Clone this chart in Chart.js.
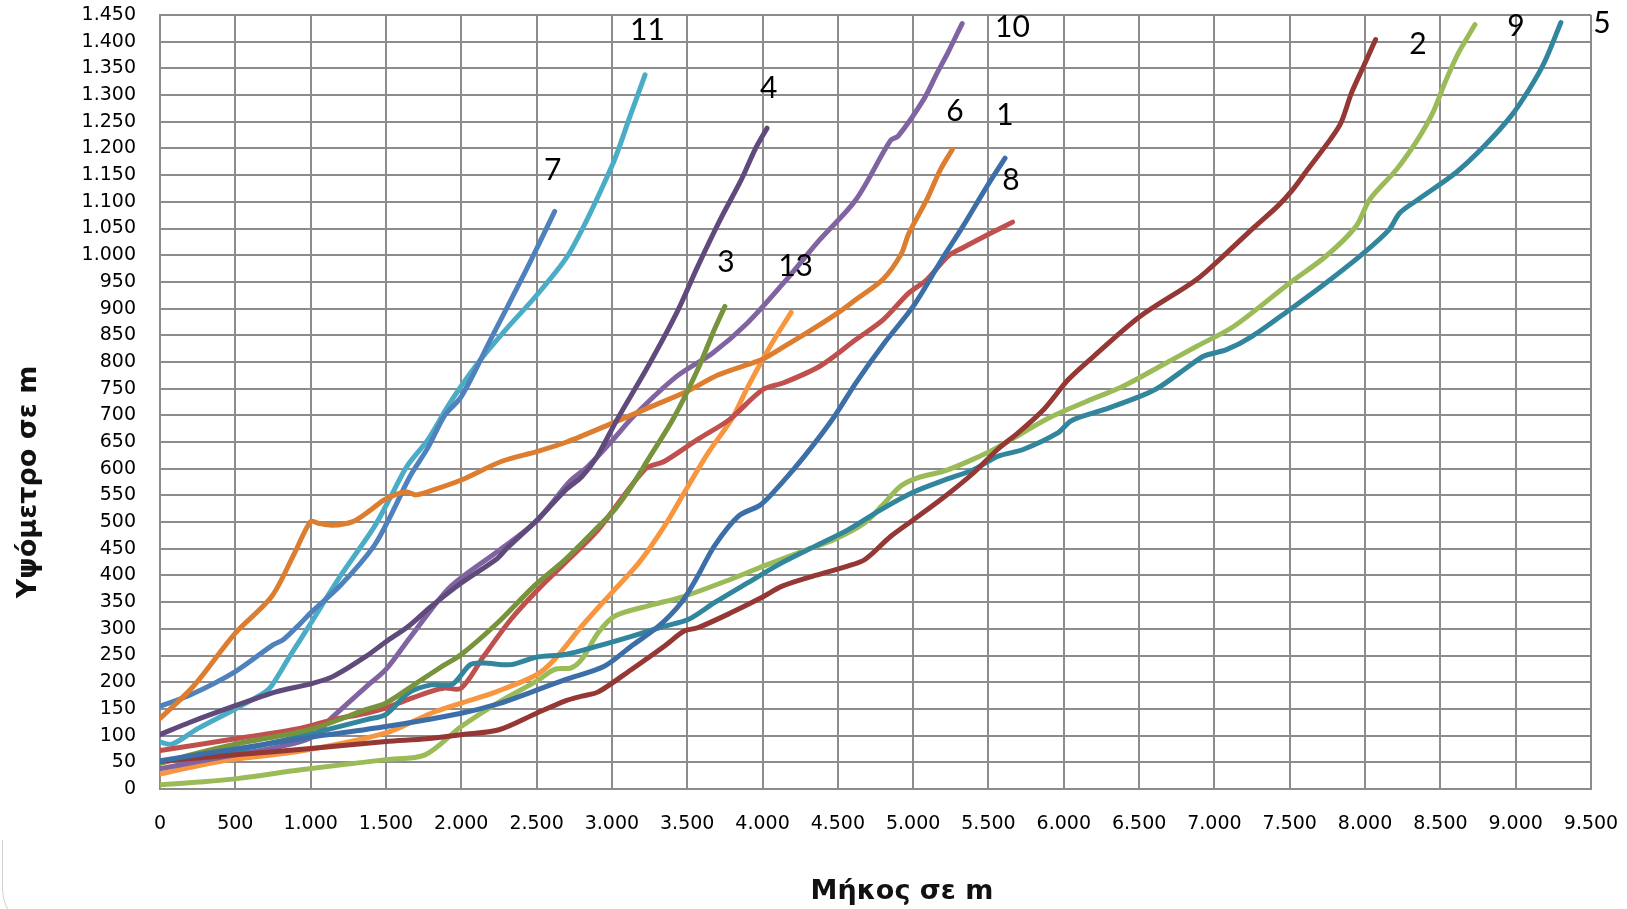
<!DOCTYPE html>
<html lang="el">
<head>
<meta charset="utf-8">
<title>Υψόμετρο σε m – Μήκος σε m</title>
<script src="https://cdn.jsdelivr.net/npm/chart.js@4.4.1/dist/chart.umd.min.js"></script>
<style>
  html, body { margin: 0; padding: 0; background: #fff; overflow: hidden; }
  #wrap { position: relative; width: 1627px; height: 909px; }
  #frame {
    position: absolute; left: 2px; top: 840px; width: 300px; height: 90px;
    border-left: 1.5px solid #cfcfcf; border-bottom: 1.5px solid #cfcfcf;
    border-bottom-left-radius: 42px;
  }
  canvas { position: absolute; left: 0; top: 0; }
</style>
</head>
<body>
<div id="wrap">
  <div id="frame"></div>
  <canvas id="profile" width="1627" height="909"></canvas>
</div>
<script>
// Longitudinal profiles: [length in m, elevation in m]
const route1  = [[0,53],[500,75],[1000,97],[1500,117],[2000,142],[2250,160],[2470,182],[2690,205],[2950,230],[3130,268],[3310,305],[3460,349],[3570,399],[3680,455],[3840,511],[3990,533],[4130,574],[4280,624],[4470,695],[4620,761],[4810,836],[5000,904],[5190,992],[5330,1054],[5490,1129],[5610,1182]];
const route2  = [[0,52],[500,64],[1000,76],[1500,89],[1770,94],[2010,102],[2250,111],[2500,142],[2700,166],[2800,174],[2910,182],[3130,224],[3350,268],[3480,296],[3570,302],[3790,330],[4010,361],[4130,380],[4350,400],[4570,418],[4680,430],[4850,473],[5000,504],[5210,548],[5400,592],[5560,636],[5700,668],[5870,712],[6030,767],[6200,811],[6510,886],[6880,954],[7080,1004],[7270,1054],[7420,1092],[7520,1123],[7620,1161],[7770,1217],[7840,1248],[7910,1304],[7990,1354],[8070,1404]];
const route3  = [[0,48],[260,68],[500,84],[1000,112],[1370,149],[1500,161],[1700,198],[1880,231],[2000,252],[2240,311],[2490,382],[2690,430],[2890,486],[3020,524],[3130,567],[3240,617],[3410,695],[3570,786],[3670,854],[3750,904]];
const route4  = [[0,102],[200,125],[500,156],[770,182],[1000,197],[1150,211],[1370,249],[1500,276],[1650,305],[1800,342],[2000,386],[2240,432],[2300,450],[2500,503],[2700,562],[2800,585],[2900,622],[3030,690],[3240,792],[3430,892],[3570,979],[3720,1067],[3860,1142],[3950,1198],[4030,1238]];
const route5  = [[0,50],[500,72],[1000,103],[1150,114],[1370,130],[1500,140],[1650,180],[1800,195],[1940,196],[2060,233],[2150,236],[2330,233],[2500,247],[2690,252],[2910,268],[3130,286],[3350,305],[3510,318],[3680,349],[3900,386],[4130,424],[4350,455],[4570,486],[4790,524],[5000,556],[5210,579],[5400,598],[5560,623],[5730,636],[5960,667],[6050,690],[6270,711],[6510,736],[6640,754],[6830,792],[6930,811],[7080,823],[7250,848],[7500,898],[7740,948],[7990,1004],[8160,1048],[8230,1079],[8350,1104],[8600,1154],[8790,1204],[8970,1261],[9090,1311],[9190,1361],[9300,1436]];
const route6  = [[0,132],[220,192],[500,292],[740,360],[890,440],[1000,501],[1050,498],[1140,494],[1280,501],[1400,523],[1490,542],[1630,557],[1700,551],[1820,561],[2000,579],[2270,614],[2500,632],[2700,650],[3000,685],[3250,715],[3500,745],[3700,775],[3900,795],[4000,805],[4150,830],[4330,861],[4500,892],[4620,917],[4800,955],[4920,1002],[4970,1040],[5090,1104],[5180,1160],[5260,1198]];
const route7  = [[0,155],[200,176],[500,220],[750,270],[820,280],[935,311],[1000,330],[1200,382],[1420,455],[1540,517],[1660,586],[1780,640],[1890,700],[2000,735],[2200,845],[2400,955],[2500,1012],[2620,1082]];
const route8  = [[0,72],[500,94],[935,114],[1150,130],[1370,142],[1500,152],[1650,168],[1800,183],[1890,189],[2000,189],[2150,249],[2330,318],[2500,371],[2690,424],[2910,486],[3220,599],[3350,614],[3570,655],[3780,692],[4000,748],[4140,761],[4380,792],[4620,842],[4800,879],[4970,929],[5090,954],[5230,998],[5330,1014],[5520,1042],[5660,1062]];
const route9  = [[0,8],[260,13],[500,19],[935,36],[1500,55],[1760,64],[2000,117],[2240,161],[2500,202],[2620,224],[2730,227],[2800,243],[2910,293],[3020,324],[3240,343],[3480,361],[3790,393],[4010,418],[4300,449],[4480,468],[4680,499],[4790,530],[4920,568],[5030,583],[5210,596],[5400,618],[5560,640],[5900,695],[6150,726],[6390,754],[6640,792],[6880,829],[7130,867],[7500,948],[7740,998],[7940,1054],[8030,1104],[8210,1161],[8350,1217],[8450,1267],[8530,1323],[8620,1379],[8730,1432]];
const route10 = [[0,38],[260,52],[500,64],[770,78],[1000,96],[1150,136],[1370,192],[1500,224],[1650,280],[1800,336],[1910,374],[2000,396],[2250,447],[2500,502],[2720,576],[2840,604],[3000,652],[3150,700],[3430,773],[3670,817],[3900,873],[4140,948],[4380,1029],[4620,1104],[4850,1215],[4900,1223],[5070,1292],[5160,1342],[5230,1379],[5325,1434]];
const route11 = [[0,88],[80,84],[250,113],[500,150],[690,180],[740,193],[860,248],[1000,310],[1200,400],[1420,490],[1540,552],[1640,605],[1780,655],[1900,712],[2000,755],[2130,805],[2300,862],[2500,925],[2720,1005],[3000,1167],[3120,1260],[3220,1338]];
const route13 = [[0,28],[260,44],[500,56],[935,71],[1500,105],[1800,142],[2000,161],[2240,183],[2500,214],[2620,243],[2800,305],[3000,368],[3180,424],[3350,493],[3480,555],[3640,630],[3800,695],[3900,752],[4050,829],[4190,893]];

const routes     = [route1, route2, route3, route4, route5, route6, route7, route8, route9, route10, route11, route13];
const routeNames = ['1', '2', '3', '4', '5', '6', '7', '8', '9', '10', '11', '13'];

// Where each route number is written (length, elevation)
const labelAnchors = [[5551,1262],[8293,1395],[3699,987],[3984,1313],[9515,1435],[5219,1270],[2550,1159],[5591,1140],[8944,1429],[5544,1427],[3121,1421],[4104,979]];

const xTickLabels = ['0','500','1.000','1.500','2.000','2.500','3.000','3.500','4.000','4.500','5.000','5.500','6.000','6.500','7.000','7.500','8.000','8.500','9.000','9.500'];
const yTickLabels = ['0','50','100','150','200','250','300','350','400','450','500','550','600','650','700','750','800','850','900','950','1.000','1.050','1.100','1.150','1.200','1.250','1.300','1.350','1.400','1.450'];

const routeColors = ['#3c6ea8','#953735','#77933c','#604a7b','#31859c','#dc7d2f','#4f81bd','#c0504d','#9bbb59','#8064a2','#4bacc6','#f7963f'];

const GRID = '#8c8c8c';
const TICK_FONT = { family: 'DejaVu Sans', size: 19, lineHeight: 1 };

// Route numbers and axis titles drawn on the canvas
const annotate = {
  id: 'annotate',
  afterDatasetsDraw(chart) {
    const { ctx, scales: { x, y } } = chart;
    ctx.save();
    ctx.fillStyle = '#000';
    ctx.font = '30px Lato';
    ctx.textAlign = 'left';
    ctx.textBaseline = 'middle';
    routeNames.forEach((name, i) => {
      const [lx, ly] = labelAnchors[i];
      ctx.fillText(name, x.getPixelForValue(lx), y.getPixelForValue(ly));
    });

    ctx.fillStyle = '#111';
    ctx.font = 'bold 27px "DejaVu Sans"';
    ctx.textAlign = 'center';
    ctx.textBaseline = 'alphabetic';
    ctx.fillText('Μήκος σε m', 902, 899);

    ctx.translate(36, 482);
    ctx.rotate(-Math.PI / 2);
    ctx.fillText('Υψόμετρο σε m', 0, 0);
    ctx.restore();
  }
};

new Chart(document.getElementById('profile'), {
  type: 'scatter',
  data: {
    datasets: routes.map((pts, i) => ({
      label: routeNames[i],
      data: pts.map(([x, y]) => ({ x, y })),
      showLine: true,
      borderColor: routeColors[i],
      backgroundColor: routeColors[i],
      borderWidth: 5,
      tension: 0.3,
      borderCapStyle: 'round',
      borderJoinStyle: 'round',
      pointRadius: 0,
      pointHoverRadius: 0,
      fill: false
    }))
  },
  options: {
    responsive: false,
    devicePixelRatio: 1,
    animation: false,
    layout: { padding: { left: 0, top: 15, right: 36, bottom: 0 } },
    plugins: {
      legend: { display: false },
      tooltip: { enabled: false }
    },
    scales: {
      x: {
        type: 'linear',
        min: 0,
        max: 9500,
        afterFit: s => { s.height = 120; s.paddingLeft = 0; s.paddingRight = 0; },
        ticks: {
          stepSize: 500,
          autoSkip: false,
          maxRotation: 0,
          padding: 26,
          color: '#000',
          font: TICK_FONT,
          callback: (v, i) => xTickLabels[i]
        },
        grid: { color: GRID, lineWidth: 2, drawTicks: false },
        border: { color: GRID, width: 2 }
      },
      y: {
        min: 0,
        max: 1450,
        afterFit: s => { s.width = 160; s.paddingTop = 0; s.paddingBottom = 0; },
        ticks: {
          stepSize: 50,
          autoSkip: false,
          padding: 24,
          color: '#000',
          font: TICK_FONT,
          callback: (v, i) => yTickLabels[i]
        },
        grid: { color: GRID, lineWidth: 2, drawTicks: false },
        border: { color: GRID, width: 2 }
      }
    }
  },
  plugins: [annotate]
});
</script>
</body>
</html>
